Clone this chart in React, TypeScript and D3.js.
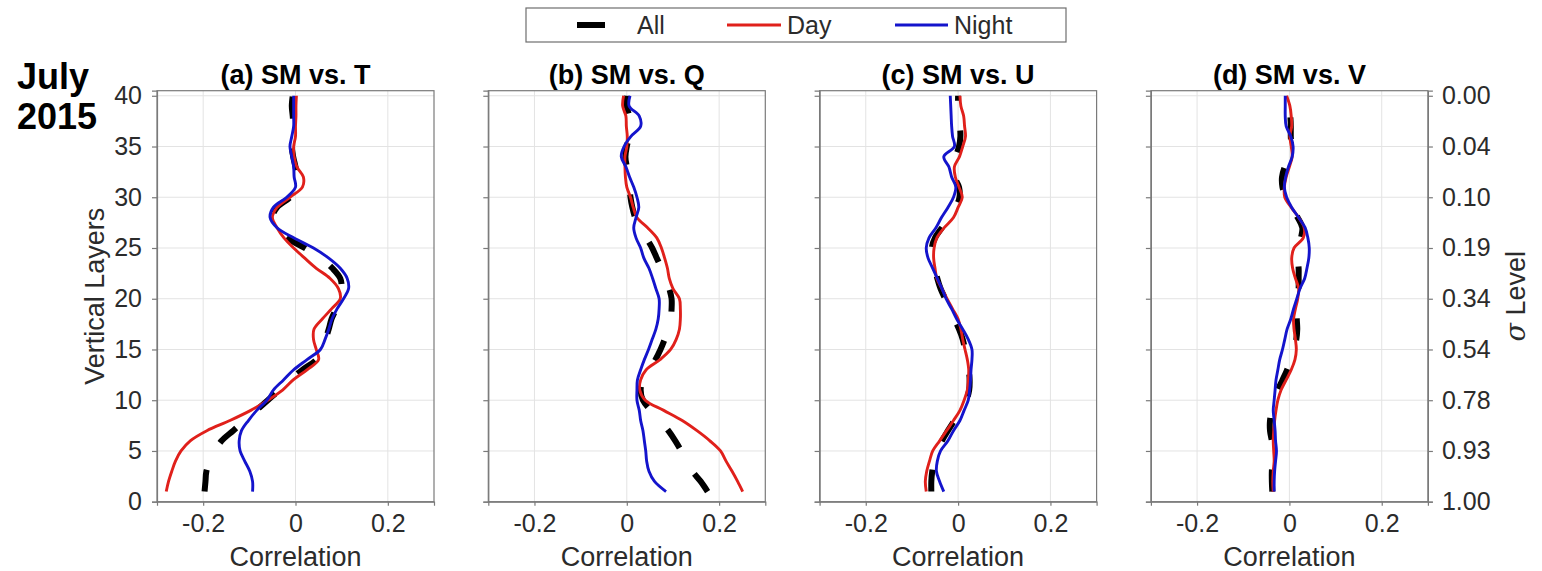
import React, { useEffect, useRef } from 'react';
import * as d3 from 'd3';

// vertical model layers (1 = surface, 40 = top)
const LAYERS = [1, 2, 3, 4, 5, 6, 7, 8, 9, 10, 11, 12, 13, 14, 15, 16, 17, 18, 19, 20,
  21, 22, 23, 24, 25, 26, 27, 28, 29, 30, 31, 32, 33, 34, 35, 36, 37, 38, 39, 40];

const LAYER_TICKS = [0, 5, 10, 15, 20, 25, 30, 35, 40];
const SIGMA_LABELS = ['1.00', '0.93', '0.78', '0.54', '0.34', '0.19', '0.10', '0.04', '0.00'];
const X_TICKS = [-0.2, 0, 0.2];
const PANEL_TITLES = ['(a) SM vs. T', '(b) SM vs. Q', '(c) SM vs. U', '(d) SM vs. V'];
const SERIES_NAMES = ['All', 'Day', 'Night'];

// (a) SM vs. T
const T_ALL = [-0.197, -0.195, -0.193, -0.185, -0.175, -0.16, -0.135, -0.11, -0.085, -0.06,
  -0.035, -0.012, 0.015, 0.045, 0.058, 0.065, 0.072, 0.078, 0.088, 0.097,
  0.1, 0.097, 0.08, 0.055, 0.02, -0.018, -0.04, -0.05, -0.04, -0.012,
  0.002, 0.004, 0.0, -0.005, -0.008, -0.006, -0.005, -0.006, -0.008, -0.006];
const T_DAY = [-0.28, -0.275, -0.268, -0.26, -0.248, -0.228, -0.192, -0.142, -0.097, -0.06,
  -0.028, -0.005, 0.025, 0.05, 0.045, 0.039, 0.04, 0.058, 0.078, 0.097,
  0.093, 0.075, 0.045, 0.02, -0.004, -0.025, -0.04, -0.05, -0.04, -0.012,
  0.015, 0.017, 0.003, -0.003, -0.004, 0.0, 0.0, 0.001, 0.001, 0.002];
const T_NIGHT = [-0.093, -0.093, -0.099, -0.11, -0.12, -0.122, -0.117, -0.102, -0.084, -0.062,
  -0.048, -0.026, -0.004, 0.025, 0.054, 0.064, 0.072, 0.079, 0.09, 0.104,
  0.115, 0.112, 0.097, 0.072, 0.039, -0.004, -0.04, -0.055, -0.048, -0.019,
  0.0, -0.003, -0.004, -0.008, -0.012, -0.008, -0.004, -0.004, -0.004, -0.004];

// (b) SM vs. Q
const Q_ALL = [0.175, 0.16, 0.142, 0.13, 0.118, 0.105, 0.09, 0.072, 0.052, 0.035,
  0.03, 0.035, 0.048, 0.062, 0.073, 0.082, 0.09, 0.095, 0.097, 0.097,
  0.092, 0.085, 0.075, 0.065, 0.055, 0.042, 0.028, 0.018, 0.012, 0.008,
  0.006, 0.004, 0.0, -0.003, 0.0, 0.005, 0.008, 0.005, 0.0, 0.0];
const Q_DAY = [0.251, 0.24, 0.228, 0.215, 0.203, 0.18, 0.152, 0.12, 0.08, 0.04,
  0.028, 0.03, 0.042, 0.072, 0.095, 0.107, 0.114, 0.116, 0.116, 0.114,
  0.1, 0.092, 0.088, 0.082, 0.075, 0.065, 0.045, 0.022, 0.014, 0.008,
  0.0, -0.003, -0.004, -0.004, 0.0, 0.001, -0.001, -0.002, -0.009, -0.007];
const Q_NIGHT = [0.085, 0.06, 0.048, 0.043, 0.041, 0.038, 0.035, 0.03, 0.027, 0.022,
  0.022, 0.023, 0.03, 0.038, 0.047, 0.055, 0.063, 0.068, 0.07, 0.07,
  0.063, 0.056, 0.048, 0.037, 0.03, 0.02, 0.015, 0.02, 0.026, 0.022,
  0.015, 0.006, -0.002, -0.012, -0.006, 0.009, 0.03, 0.027, 0.005, 0.007];

// (c) SM vs. U
const U_ALL = [-0.058, -0.058, -0.056, -0.052, -0.045, -0.035, -0.022, -0.008, 0.006, 0.018,
  0.024, 0.025, 0.023, 0.02, 0.015, 0.01, 0.002, -0.008, -0.018, -0.028,
  -0.038, -0.045, -0.05, -0.055, -0.057, -0.05, -0.035, -0.018, -0.005, 0.003,
  0.002, -0.008, -0.01, -0.005, 0.002, 0.005, 0.004, 0.002, 0.0, 0.0];
const U_DAY = [-0.069, -0.071, -0.068, -0.062, -0.055, -0.04, -0.025, -0.01, 0.004, 0.013,
  0.02, 0.022, 0.023, 0.02, 0.015, 0.01, 0.006, 0.0, -0.012, -0.024,
  -0.035, -0.046, -0.05, -0.053, -0.052, -0.046, -0.03, -0.01, 0.0, 0.009,
  0.002, -0.006, -0.008, 0.003, 0.01, 0.016, 0.014, 0.012, 0.006, 0.004];
const U_NIGHT = [-0.031, -0.04, -0.047, -0.045, -0.038, -0.022, -0.01, 0.004, 0.013, 0.022,
  0.025, 0.027, 0.028, 0.03, 0.03, 0.022, 0.01, -0.003, -0.014, -0.026,
  -0.035, -0.045, -0.055, -0.065, -0.069, -0.063, -0.048, -0.036, -0.022, -0.01,
  -0.005, -0.014, -0.02, -0.031, -0.008, -0.012, -0.014, -0.015, -0.016, -0.017];

// (d) SM vs. V
const V_ALL = [-0.037, -0.038, -0.038, -0.036, -0.035, -0.038, -0.042, -0.042, -0.038, -0.032,
  -0.025, -0.015, -0.005, 0.003, 0.01, 0.015, 0.017, 0.016, 0.016, 0.018,
  0.02, 0.02, 0.02, 0.018, 0.02, 0.025, 0.028, 0.018, 0.005, -0.008,
  -0.015, -0.016, -0.01, 0.0, 0.004, 0.003, 0.003, 0.002, 0.0, -0.005];
const V_DAY = [-0.035, -0.036, -0.035, -0.033, -0.034, -0.035, -0.034, -0.032, -0.029, -0.025,
  -0.018, -0.007, 0.004, 0.012, 0.015, 0.013, 0.01, 0.009, 0.013, 0.018,
  0.02, 0.013, 0.007, 0.005, 0.01, 0.03, 0.032, 0.02, 0.004, -0.01,
  -0.011, -0.007, 0.0, 0.006, 0.004, 0.001, 0.005, 0.004, 0.001, -0.006];
const V_NIGHT = [-0.033, -0.033, -0.032, -0.03, -0.028, -0.03, -0.031, -0.033, -0.035, -0.033,
  -0.031, -0.029, -0.025, -0.021, -0.015, -0.01, -0.005, 0.003, 0.009, 0.016,
  0.023, 0.033, 0.038, 0.042, 0.043, 0.04, 0.034, 0.02, 0.005, -0.006,
  -0.011, -0.008, -0.002, 0.006, 0.008, 0.003, -0.007, -0.009, -0.009, -0.009];

const PANEL_DATA = [
  [T_ALL, T_DAY, T_NIGHT],
  [Q_ALL, Q_DAY, Q_NIGHT],
  [U_ALL, U_DAY, U_NIGHT],
  [V_ALL, V_DAY, V_NIGHT],
];

const COLORS = ['#000000', '#e0201b', '#1414cc'];
const FONT = '"Liberation Sans", Arial, Helvetica, sans-serif';
const TEXT_COLOR = '#2b2b2b';

const App = () => {
  const svgRef = useRef<SVGSVGElement>(null);

  useEffect(() => {
    const W = 1542;
    const H = 571;
    const panelW = 277;
    const panelStep = 331.3;
    const left0 = 157;
    const top = 90.7;
    const bottom = 501.7;

    const svg = d3.select(svgRef.current).attr('width', W).attr('height', H);
    svg.selectAll('*').remove();

    const x = d3.scaleLinear().domain([-0.3, 0.3]).range([0, panelW]);
    const y = d3.scaleLinear().domain([0, 40.5]).range([bottom, top]);

    const line = d3.line<number>()
      .x(d => x(d))
      .y((d, i) => y(LAYERS[i]))
      .curve(d3.curveCatmullRom.alpha(0.5));

    PANEL_DATA.forEach((series, p) => {
      const g = svg.append('g').attr('transform', `translate(${left0 + p * panelStep},0)`);

      // grid
      g.append('g').selectAll('line.gx').data(X_TICKS).enter().append('line')
        .attr('x1', d => x(d)).attr('x2', d => x(d))
        .attr('y1', top).attr('y2', bottom)
        .attr('stroke', '#e3e3e3').attr('stroke-width', 1);
      g.append('g').selectAll('line.gy').data(LAYER_TICKS).enter().append('line')
        .attr('x1', 0).attr('x2', panelW)
        .attr('y1', d => y(d)).attr('y2', d => y(d))
        .attr('stroke', '#e3e3e3').attr('stroke-width', 1);

      // lines: All (dashed) under Day and Night
      const clip = `clip-${p}`;
      g.append('clipPath').attr('id', clip).append('rect')
        .attr('x', 0).attr('y', top).attr('width', panelW).attr('height', bottom - top);
      const lines = g.append('g').attr('clip-path', `url(#${clip})`);
      series.forEach((vals, s) => {
        lines.append('path')
          .attr('d', line(vals))
          .attr('fill', 'none')
          .attr('stroke', COLORS[s])
          .attr('stroke-width', s === 0 ? 6 : 2.9)
          .attr('stroke-dasharray', s === 0 ? '22,30' : null)
          .attr('stroke-linejoin', 'round');
      });

      // box
      g.append('rect')
        .attr('x', 0).attr('y', top).attr('width', panelW).attr('height', bottom - top)
        .attr('fill', 'none').attr('stroke', '#7a7a7a').attr('stroke-width', 1.2);

      // axes
      const yAxis = d3.axisLeft(y).tickValues(LAYER_TICKS).tickSize(5).tickPadding(10)
        .tickFormat(p === 0 ? d3.format('d') : () => '');
      const ya = g.append('g').call(yAxis);
      const xAxis = d3.axisBottom(x).tickValues(X_TICKS).tickSize(4).tickPadding(9)
        .tickFormat(d => (d === 0 ? '0' : d3.format('.1f')(d as number).replace('−', '-')));
      const xa = g.append('g').attr('transform', `translate(0,${bottom})`).call(xAxis);

      [ya, xa].forEach(a => {
        a.select('.domain').attr('stroke', '#7a7a7a').attr('stroke-width', 1.2);
        a.selectAll('.tick line').attr('stroke', '#7a7a7a').attr('stroke-width', 1.2);
        a.selectAll('.tick text')
          .attr('fill', TEXT_COLOR)
          .style('font-family', FONT)
          .style('font-size', '25px');
      });

      if (p === PANEL_DATA.length - 1) {
        const sigma = d3.axisRight(y).tickValues(LAYER_TICKS).tickSize(5).tickPadding(9)
          .tickFormat((d, i) => SIGMA_LABELS[i]);
        const ra = g.append('g').attr('transform', `translate(${panelW},0)`).call(sigma);
        ra.select('.domain').attr('stroke', '#7a7a7a').attr('stroke-width', 1.2);
        ra.selectAll('.tick line').attr('stroke', '#7a7a7a').attr('stroke-width', 1.2);
        ra.selectAll('.tick text').attr('fill', TEXT_COLOR)
          .style('font-family', FONT).style('font-size', '25px');

        const lab = g.append('text')
          .attr('transform', `translate(${panelW + 97},${(top + bottom) / 2}) rotate(-90)`)
          .attr('text-anchor', 'middle')
          .attr('fill', TEXT_COLOR)
          .style('font-family', FONT)
          .style('font-size', '27px');
        lab.append('tspan').style('font-family', '"DejaVu Serif", serif').style('font-style', 'italic').text('σ');
        lab.append('tspan').text(' Level');
      }

      // title and x label
      g.append('text')
        .attr('x', panelW / 2).attr('y', 84)
        .attr('text-anchor', 'middle')
        .attr('fill', '#000')
        .style('font-family', FONT).style('font-weight', 'bold').style('font-size', '27px')
        .text(PANEL_TITLES[p]);
      g.append('text')
        .attr('x', panelW / 2).attr('y', 566)
        .attr('text-anchor', 'middle')
        .attr('fill', TEXT_COLOR)
        .style('font-family', FONT).style('font-size', '27px')
        .text('Correlation');
    });

    // y label
    svg.append('text')
      .attr('transform', `translate(104,${(top + bottom) / 2}) rotate(-90)`)
      .attr('text-anchor', 'middle')
      .attr('fill', TEXT_COLOR)
      .style('font-family', FONT).style('font-size', '27px')
      .text('Vertical Layers');

    // month label
    const month = svg.append('text')
      .attr('fill', '#000')
      .style('font-family', FONT).style('font-weight', 'bold').style('font-size', '36px');
    month.append('tspan').attr('x', 17).attr('y', 89).text('July');
    month.append('tspan').attr('x', 17).attr('y', 129).text('2015');

    // legend
    const lg = svg.append('g');
    lg.append('rect').attr('x', 526).attr('y', 8).attr('width', 540).attr('height', 34)
      .attr('fill', '#fff').attr('stroke', '#6e6e6e').attr('stroke-width', 1.2);
    const legendItems = [
      { x1: 577, x2: 605, tx: 637 },
      { x1: 727, x2: 781, tx: 787 },
      { x1: 895, x2: 948, tx: 954 },
    ];
    legendItems.forEach((it, s) => {
      lg.append('line')
        .attr('x1', it.x1).attr('x2', it.x2).attr('y1', 25).attr('y2', 25)
        .attr('stroke', COLORS[s]).attr('stroke-width', s === 0 ? 6 : 2.9);
      lg.append('text')
        .attr('x', it.tx).attr('y', 33.5)
        .attr('fill', TEXT_COLOR)
        .style('font-family', FONT).style('font-size', '25px')
        .text(SERIES_NAMES[s]);
    });
  }, []);

  return (
    <svg ref={svgRef} style={{ position: 'absolute', left: 0, top: 0, background: '#fff' }} />
  );
};

export default App;
